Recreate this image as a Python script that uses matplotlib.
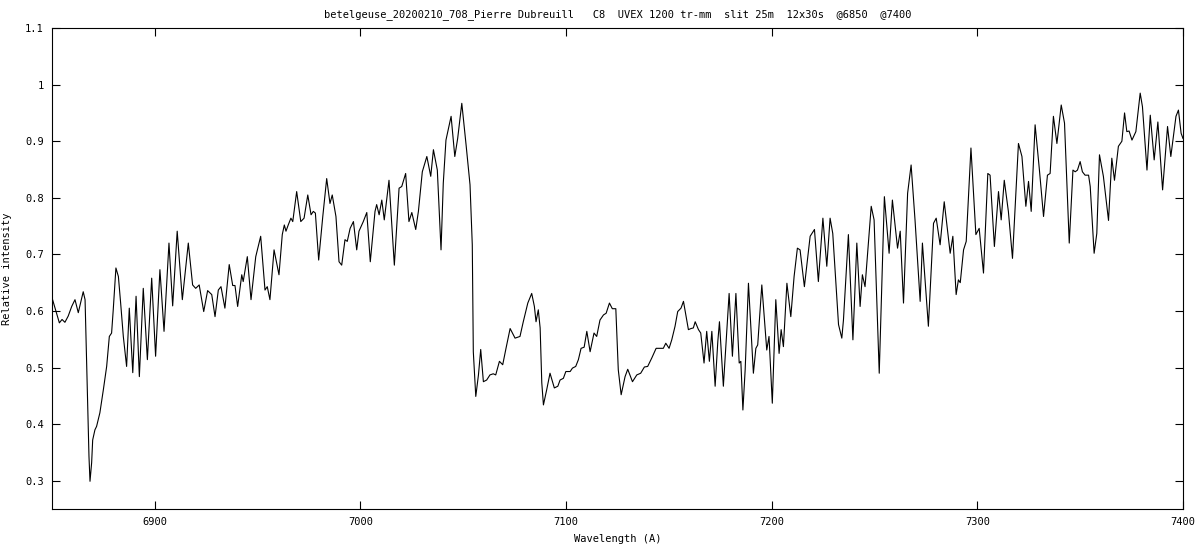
import matplotlib
matplotlib.use("Agg")
import matplotlib.pyplot as plt

# spectrum (wavelength in A, relative intensity)
wavelength = [
    6850.3, 6853.6, 6854.9, 6856.3, 6857.9, 6859.6, 6861.2, 6862.8, 6865.2, 6866.1,
    6866.9, 6868.0, 6868.5, 6869.3, 6869.8, 6870.9, 6871.7, 6873.3, 6875.0, 6876.6,
    6877.9, 6879.0, 6879.8, 6881.1, 6882.3, 6883.4, 6884.7, 6886.3, 6887.6, 6889.3,
    6890.9, 6892.5, 6894.4, 6896.4, 6898.5, 6900.4, 6902.5, 6904.5, 6906.9, 6908.7,
    6910.9, 6913.4, 6916.3, 6918.4, 6919.9, 6921.6, 6923.8, 6925.7, 6927.7, 6929.3,
    6930.9, 6932.2, 6934.1, 6936.2, 6937.9, 6939.0, 6940.3, 6942.3, 6943.0, 6945.0,
    6946.8, 6949.1, 6951.5, 6953.6, 6954.7, 6956.0, 6958.0, 6960.4, 6962.0, 6963.0,
    6963.8, 6964.9, 6966.2, 6967.1, 6969.0, 6971.0, 6972.6, 6974.4, 6976.0, 6977.1,
    6978.1, 6979.7, 6981.7, 6983.6, 6985.2, 6986.3, 6988.1, 6989.6, 6990.9, 6992.5,
    6993.6, 6995.0, 6996.6, 6998.2, 6999.3, 7001.4, 7003.1, 7004.8, 7007.1, 7007.9,
    7009.1, 7010.4, 7011.6, 7013.9, 7016.5, 7018.8, 7020.1, 7022.0, 7023.6, 7025.0,
    7026.9, 7028.2, 7030.1, 7032.3, 7034.2, 7035.5, 7037.4, 7039.2, 7040.3, 7041.6,
    7044.1, 7045.9, 7047.3, 7049.3, 7051.4, 7053.3, 7054.4, 7054.9, 7056.1, 7057.4,
    7058.5, 7059.8, 7061.4, 7063.0, 7064.6, 7065.8, 7067.6, 7069.2, 7070.8, 7072.8,
    7075.2, 7077.6, 7079.2, 7081.4, 7083.3, 7084.6, 7085.4, 7086.5, 7087.4, 7088.2,
    7089.0, 7090.6, 7092.2, 7094.3, 7096.0, 7097.1, 7098.7, 7099.9, 7102.0, 7103.1,
    7104.7, 7106.0, 7107.3, 7108.8, 7110.1, 7111.7, 7113.6, 7114.9, 7116.5, 7118.2,
    7119.5, 7121.1, 7122.5, 7124.2, 7125.4, 7126.8, 7128.7, 7130.0, 7132.3, 7134.4,
    7136.3, 7138.1, 7139.7, 7141.7, 7143.8, 7145.7, 7147.3, 7148.5, 7150.1, 7151.4,
    7153.0, 7154.3, 7155.9, 7157.1, 7158.7, 7159.5, 7160.8, 7161.9, 7162.8, 7164.4,
    7165.5, 7167.1, 7168.4, 7169.7, 7170.9, 7172.5, 7173.8, 7174.6, 7176.5, 7178.2,
    7179.3, 7180.9, 7182.6, 7184.2, 7185.0, 7186.0, 7187.1, 7188.7, 7191.1, 7192.3,
    7193.2, 7195.2, 7197.6, 7198.7, 7200.3, 7202.0, 7203.6, 7204.6, 7205.7, 7207.4,
    7209.3, 7210.9, 7212.5, 7213.8, 7215.9, 7218.7, 7220.8, 7222.7, 7224.9, 7226.8,
    7228.4, 7229.7, 7232.5, 7234.1, 7234.9, 7237.3, 7239.5, 7241.4, 7243.0, 7244.1,
    7245.4, 7248.4, 7249.8, 7252.3, 7254.8, 7257.1, 7258.7, 7261.2, 7262.5, 7264.1,
    7266.1, 7267.8, 7269.7, 7272.2, 7273.3, 7276.2, 7278.7, 7280.0, 7281.9, 7283.9,
    7286.8, 7288.1, 7289.7, 7290.8, 7291.7, 7293.3, 7294.6, 7296.9, 7299.3, 7300.9,
    7303.0, 7305.1, 7306.2, 7308.3, 7310.3, 7311.6, 7313.1, 7315.1, 7317.1, 7320.0,
    7321.7, 7323.6, 7324.9, 7326.2, 7328.1, 7330.2, 7332.2, 7334.1, 7335.4, 7337.0,
    7338.7, 7340.8, 7342.4, 7344.7, 7346.5, 7347.6, 7348.7, 7350.0, 7351.1, 7352.4,
    7354.1, 7354.9, 7356.8, 7358.1, 7359.4, 7361.3, 7363.8, 7365.4, 7366.7, 7368.6,
    7370.3, 7371.6, 7372.7, 7373.8, 7375.2, 7377.1, 7379.2, 7380.3, 7382.5, 7384.1,
    7386.0, 7387.8, 7390.1, 7392.5, 7394.1, 7396.6, 7397.8, 7399.1, 7400.0,
]
intensity = [
    0.620, 0.579, 0.585, 0.580, 0.591, 0.608, 0.620, 0.597, 0.634, 0.620,
    0.502, 0.343, 0.299, 0.332, 0.372, 0.390, 0.396, 0.420, 0.461, 0.502,
    0.555, 0.561, 0.602, 0.676, 0.661, 0.614, 0.555, 0.502, 0.605, 0.491,
    0.626, 0.484, 0.640, 0.514, 0.658, 0.520, 0.673, 0.564, 0.720, 0.609,
    0.741, 0.620, 0.720, 0.646, 0.640, 0.646, 0.599, 0.636, 0.629, 0.590,
    0.637, 0.643, 0.605, 0.682, 0.645, 0.645, 0.608, 0.664, 0.652, 0.696,
    0.620, 0.696, 0.732, 0.637, 0.643, 0.620, 0.708, 0.664, 0.735, 0.752,
    0.741, 0.752, 0.764, 0.758, 0.811, 0.758, 0.764, 0.805, 0.770, 0.776,
    0.773, 0.690, 0.767, 0.834, 0.790, 0.805, 0.767, 0.687, 0.681, 0.726,
    0.723, 0.746, 0.758, 0.708, 0.741, 0.758, 0.774, 0.687, 0.776, 0.788,
    0.770, 0.796, 0.761, 0.831, 0.681, 0.817, 0.820, 0.843, 0.758, 0.774,
    0.744, 0.776, 0.846, 0.873, 0.838, 0.885, 0.849, 0.708, 0.826, 0.902,
    0.944, 0.873, 0.905, 0.967, 0.893, 0.823, 0.717, 0.528, 0.449, 0.487,
    0.532, 0.475, 0.478, 0.487, 0.489, 0.487, 0.511, 0.505, 0.534, 0.569,
    0.552, 0.555, 0.581, 0.614, 0.631, 0.608, 0.581, 0.602, 0.570, 0.473,
    0.434, 0.461, 0.490, 0.464, 0.467, 0.478, 0.481, 0.493, 0.493, 0.499,
    0.502, 0.514, 0.534, 0.536, 0.564, 0.528, 0.561, 0.555, 0.584, 0.593,
    0.596, 0.614, 0.604, 0.604, 0.496, 0.452, 0.484, 0.497, 0.475, 0.487,
    0.490, 0.501, 0.502, 0.517, 0.534, 0.534, 0.534, 0.543, 0.534, 0.549,
    0.573, 0.599, 0.605, 0.617, 0.584, 0.567, 0.569, 0.570, 0.581, 0.567,
    0.561, 0.508, 0.564, 0.511, 0.564, 0.467, 0.546, 0.581, 0.467, 0.567,
    0.631, 0.520, 0.631, 0.508, 0.511, 0.425, 0.496, 0.649, 0.490, 0.534,
    0.540, 0.646, 0.531, 0.555, 0.437, 0.620, 0.525, 0.567, 0.537, 0.649,
    0.590, 0.661, 0.711, 0.708, 0.643, 0.732, 0.744, 0.652, 0.764, 0.679,
    0.764, 0.737, 0.576, 0.552, 0.584, 0.735, 0.549, 0.720, 0.608, 0.664,
    0.643, 0.785, 0.761, 0.490, 0.802, 0.702, 0.796, 0.711, 0.741, 0.614,
    0.808, 0.858, 0.761, 0.617, 0.720, 0.573, 0.755, 0.764, 0.717, 0.793,
    0.702, 0.732, 0.629, 0.655, 0.650, 0.708, 0.723, 0.888, 0.735, 0.746,
    0.667, 0.843, 0.840, 0.714, 0.811, 0.761, 0.831, 0.776, 0.693, 0.896,
    0.873, 0.785, 0.829, 0.776, 0.929, 0.849, 0.767, 0.840, 0.843, 0.944,
    0.896, 0.964, 0.932, 0.720, 0.849, 0.846, 0.849, 0.864, 0.846, 0.840,
    0.840, 0.820, 0.702, 0.737, 0.876, 0.838, 0.760, 0.870, 0.831, 0.891,
    0.900, 0.950, 0.917, 0.918, 0.902, 0.917, 0.985, 0.961, 0.849, 0.946,
    0.867, 0.934, 0.814, 0.926, 0.873, 0.944, 0.955, 0.914, 0.905,
]

x_ticks = [6900, 7000, 7100, 7200, 7300, 7400]
y_ticks = [0.3, 0.4, 0.5, 0.6, 0.7, 0.8, 0.9, 1.0, 1.1]
y_labels = ["0.3", "0.4", "0.5", "0.6", "0.7", "0.8", "0.9", "1", "1.1"]

title = ("betelgeuse_20200210_708_Pierre Dubreuill   C8  UVEX 1200 tr-mm  "
         "slit 25m  12x30s  @6850  @7400")

plt.rcParams["font.family"] = "DejaVu Sans Mono"
plt.rcParams["font.size"] = 7.5

fig = plt.figure(figsize=(12, 5.5), dpi=100)
ax = fig.add_axes([0.0433, 0.0745, 0.9425, 0.8745])

ax.plot(wavelength, intensity, color="black", lw=0.8)

ax.set_xlim(6850, 7400)
ax.set_ylim(0.25, 1.1)
ax.set_xticks(x_ticks)
ax.set_yticks(y_ticks)
ax.set_yticklabels(y_labels)
ax.tick_params(direction="in", length=6, width=0.8, top=True, right=True,
               pad=6, colors="black")
for s in ax.spines.values():
    s.set_linewidth(0.8)

ax.set_title(title, fontsize=7.5, pad=8)
ax.set_xlabel("Wavelength (A)", labelpad=5)
ax.set_ylabel("Relative intensity", labelpad=9)

fig.savefig("out.png", dpi=100)
print("Saved: out.png")
